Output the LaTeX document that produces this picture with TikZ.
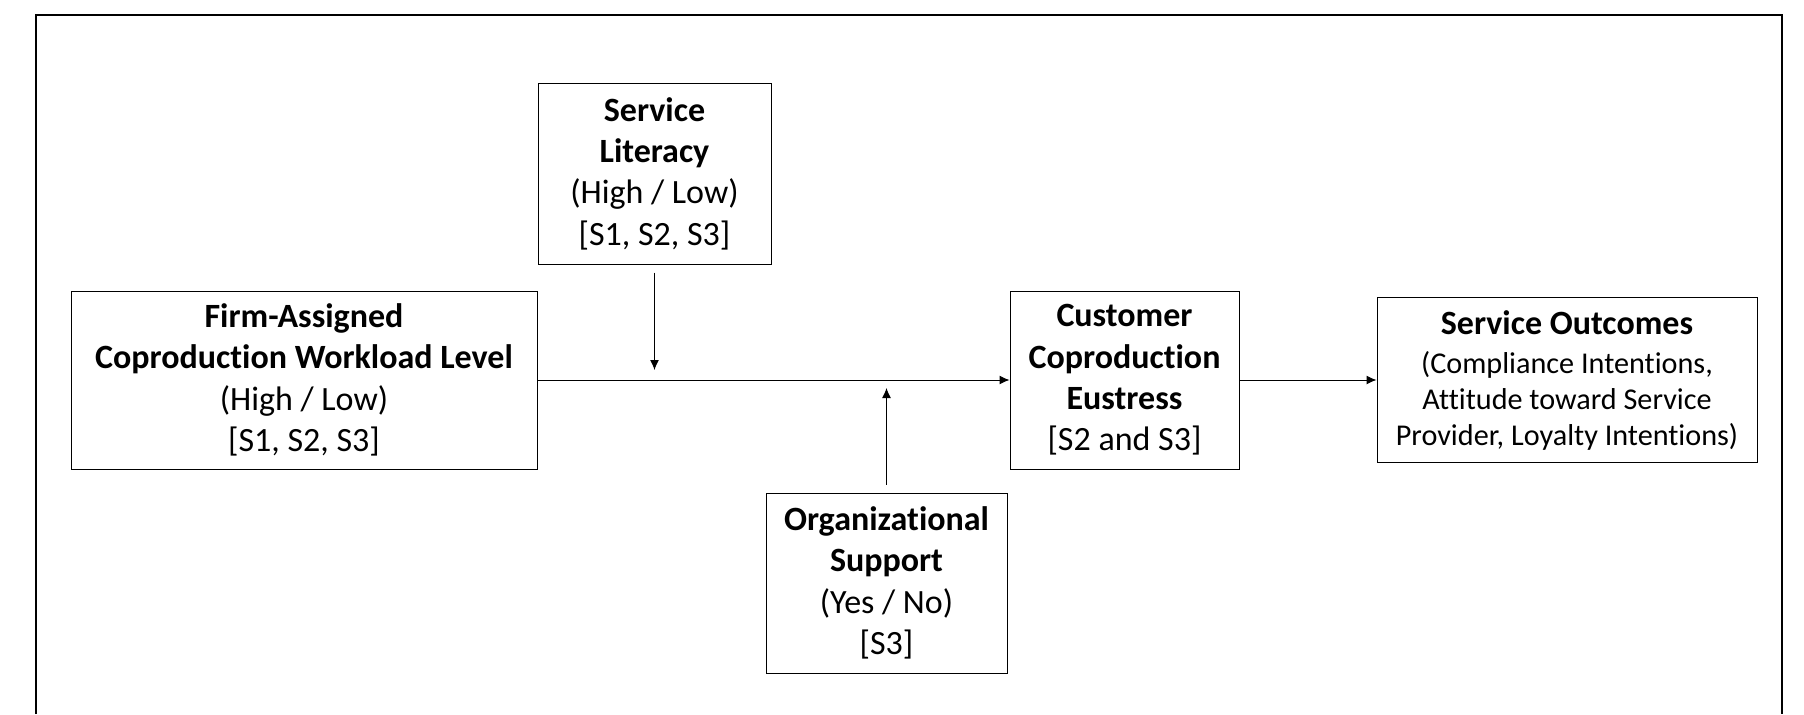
\documentclass[tikz,border=0pt]{standalone}
\usepackage{fontspec}
\setmainfont{Carlito}[Ligatures=NoCommon]
\usetikzlibrary{arrows.meta,positioning,calc}
\newcommand{\outfont}{\fontsize{15.1}{18}\selectfont}

\begin{document}
\begin{tikzpicture}[
    >={Latex[length=5pt,width=4.5pt]},
    every path/.style={line width=0.5pt},
    var/.style={rectangle, draw, align=center, minimum height=89pt,
        inner sep=2pt, font=\fontsize{17}{20.7}\selectfont},
    frame/.style={draw, line width=1pt}
]
\useasboundingbox (0,0) rectangle (902pt,-357pt);

% Outer frame (bottom edge cut off)
\draw[frame] (17.8pt,-357pt) -- (17.8pt,-7.5pt) -- (890.8pt,-7.5pt) -- (890.8pt,-357pt);

% Independent variable
\node[var, minimum width=233pt] (firm) at (152pt,-190pt)
    {\textbf{Firm-Assigned}\\ \textbf{Coproduction Workload Level}\\ (High / Low)\\ {[S1, S2, S3]}};

% Mediator and outcomes
\node[var, minimum width=114.5pt, right=236pt of firm] (eus)
    {\textbf{Customer}\\ \textbf{Coproduction}\\ \textbf{Eustress}\\ {[S2 and S3]}};
\node[var, minimum width=190pt, minimum height=82.5pt, font=\outfont, right=68.5pt of eus] (out)
    {\textbf{\fontsize{17}{18}\selectfont Service Outcomes}\\[1.5pt] (Compliance Intentions,\\ Attitude toward Service\\ Provider, Loyalty Intentions)};

% Moderators
\node[var, minimum width=116.5pt, minimum height=90.5pt, above right=13pt and 0pt of firm.north east] (lit)
    {\textbf{Service}\\ \textbf{Literacy}\\ (High / Low)\\ {[S1, S2, S3]}};
\node[var, minimum width=120.5pt, minimum height=90pt, below left=11.5pt and 1pt of eus.south west] (sup)
    {\textbf{Organizational}\\ \textbf{Support}\\ (Yes / No)\\ {[S3]}};

% Arrows
\draw[->] (firm) -- (eus);
\draw[->] (eus) -- (out);
\draw[->, shorten <=4pt, shorten >=5pt] (lit) -- (lit |- firm.east);
\draw[->, shorten <=4pt, shorten >=4pt] (sup) -- (sup |- firm.east);

\end{tikzpicture}
\end{document}
